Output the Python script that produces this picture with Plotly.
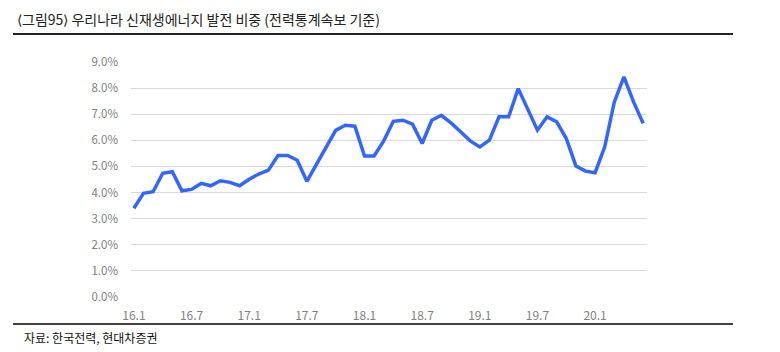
import plotly.graph_objects as go

months = [f"{y}.{m}" for y in range(16, 21) for m in range(1, 13)][:54]
share = [3.40, 3.97, 4.03, 4.74, 4.80, 4.07, 4.12, 4.35, 4.26, 4.45, 4.39, 4.26,
         4.51, 4.71, 4.86, 5.42, 5.42, 5.24, 4.43, 5.10, 5.74, 6.38, 6.58, 6.54,
         5.40, 5.40, 5.98, 6.73, 6.77, 6.62, 5.88, 6.77, 6.96, 6.67, 6.33, 5.98,
         5.75, 6.01, 6.90, 6.90, 7.98, 7.18, 6.39, 6.90, 6.71, 6.07, 5.02, 4.82,
         4.76, 5.75, 7.47, 8.43, 7.47, 6.65]
tick_labels = ["16.1", "16.7", "17.1", "17.7", "18.1", "18.7", "19.1", "19.7", "20.1"]
ytick_vals = [0, 1, 2, 3, 4, 5, 6, 7, 8, 9]

title_text = "⟨그림95⟩ 우리나라 신재생에너지 발전 비중 (전력통계속보 기준)"
source_text = "자료: 한국전력, 현대차증권"

x_idx = list(range(len(share)))
tick_idx = [months.index(t) for t in tick_labels]

W, H = 780, 352
L, R, T, B = 131, 133, 62, 55
pw, ph = W - L - R, H - T - B

def px(x):
    return (x - L) / pw

def py(y):
    return (H - B - y) / ph

fig = go.Figure()
fig.add_trace(go.Scatter(x=x_idx, y=share, mode="lines",
                         line=dict(color="#3366FF", width=3.5), hoverinfo="skip"))

fig.update_layout(
    width=W, height=H,
    margin=dict(l=L, r=R, t=T, b=B, pad=0),
    paper_bgcolor="white", plot_bgcolor="white",
    showlegend=False,
    font=dict(family="Noto Sans CJK KR", color="#7f7f7f", size=11),
    xaxis=dict(range=[-0.3, 53.4], tickvals=tick_idx, ticktext=tick_labels,
               showgrid=False, zeroline=False, showline=False, ticks="",
               tickfont=dict(size=12, color="#808080"), ticklabelstandoff=10),
    yaxis=dict(range=[0, 9], tickvals=ytick_vals,
               ticktext=[f"{v:.1f}%" for v in ytick_vals],
               showgrid=True, gridcolor="#d9d9d9", gridwidth=1,
               zeroline=False, showline=False, ticks="",
               tickfont=dict(size=11.5, color="#808080"), ticklabelstandoff=12),
    shapes=[
        dict(type="line", xref="paper", yref="paper", x0=px(13), x1=px(733),
             y0=py(34), y1=py(34), line=dict(color="#222222", width=2)),
        dict(type="line", xref="paper", yref="paper", x0=px(13), x1=px(733),
             y0=py(324), y1=py(324), line=dict(color="#000000", width=1.5)),
    ],
    annotations=[
        dict(text=title_text, xref="paper", yref="paper", x=px(15), y=py(19),
             xanchor="left", yanchor="middle", showarrow=False,
             font=dict(family="Noto Sans CJK KR", size=14, color="#222222")),
        dict(text=source_text, xref="paper", yref="paper", x=px(22), y=py(337),
             xanchor="left", yanchor="middle", showarrow=False,
             font=dict(family="Noto Sans CJK KR", size=12, color="#111111")),
    ],
)

fig.write_html("out.html")
